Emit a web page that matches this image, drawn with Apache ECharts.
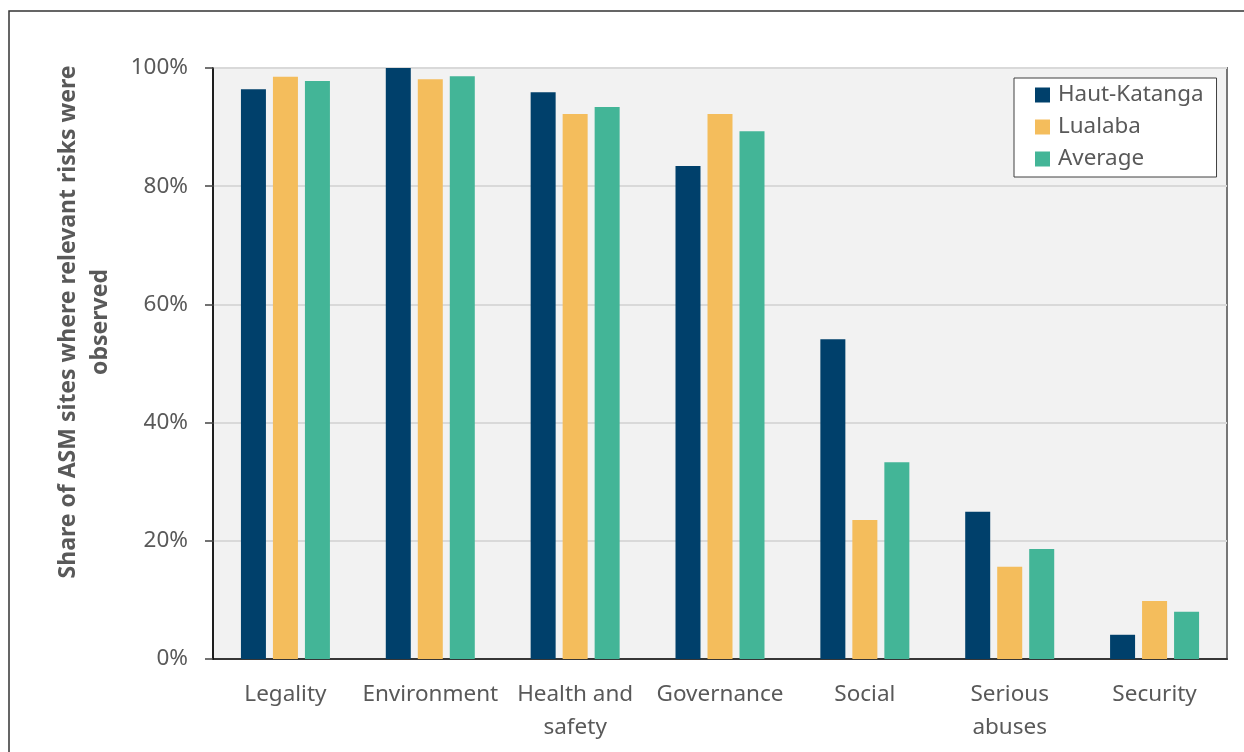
<!DOCTYPE html>
<html>
<head>
<meta charset="utf-8">
<title>ASM site risks by category</title>
<script src="https://cdn.jsdelivr.net/npm/echarts@6/dist/echarts.min.js"></script>
<style>
  html, body { margin: 0; padding: 0; background: #ffffff; }
  #chart { width: 1244px; height: 752px; }
</style>
</head>
<body>
<div id="chart"></div>
<script>
// Risk categories shown along the x axis
const categories = ['Legality', 'Environment', 'Health and\nsafety', 'Governance', 'Social', 'Serious\nabuses', 'Security'];

// Share of sites (%) where each risk category was observed
const hautKatanga = [96.4, 100, 95.9, 83.4, 54.1, 24.9, 4.1];
const lualaba     = [98.5, 98.1, 92.2, 92.2, 23.5, 15.6, 9.8];
const average     = [97.8, 98.6, 93.4, 89.3, 33.3, 18.6, 8.0];

const seriesNames = ['Haut-Katanga', 'Lualaba', 'Average'];
const colors = ['#00406b', '#f4bd5c', '#43b597'];

const yAxisTitle = 'Share of ASM sites where relevant risks were\nobserved';

const textColor = '#595959';
const fontFamily = '"Noto Sans", "Open Sans", sans-serif';

const chart = echarts.init(document.getElementById('chart'), null, { renderer: 'canvas' });

const seriesData = [hautKatanga, lualaba, average];

chart.setOption({
  animation: false,
  backgroundColor: '#ffffff',
  textStyle: { fontFamily: fontFamily },
  grid: {
    left: 213, right: 17, top: 68, bottom: 93,
    show: true,
    backgroundColor: '#f2f2f2',
    borderColor: '#777777',
    borderWidth: 2
  },
  legend: {
    orient: 'vertical',
    left: 1014,
    top: 78,
    data: seriesNames,
    icon: 'rect',
    itemWidth: 15,
    itemHeight: 15,
    itemGap: 8,
    padding: [5, 13, 6, 21],
    backgroundColor: '#ffffff',
    borderColor: '#404040',
    borderWidth: 1,
    borderRadius: 0,
    textStyle: {
      color: textColor,
      fontSize: 22.4,
      lineHeight: 24,
      fontFamily: fontFamily,
      padding: [0, 0, 0, 3]
    }
  },
  xAxis: {
    type: 'category',
    data: categories,
    axisLine: { show: true, lineStyle: { color: '#000000', width: 1.5 } },
    axisTick: { show: false },
    axisLabel: {
      color: textColor,
      fontSize: 22.5,
      lineHeight: 33,
      margin: 19,
      interval: 0,
      fontFamily: fontFamily
    },
    splitLine: { show: false }
  },
  yAxis: {
    type: 'value',
    min: 0,
    max: 100,
    interval: 20,
    axisLine: { show: true, lineStyle: { color: '#000000', width: 1.5 } },
    axisTick: { show: true, length: 8, lineStyle: { color: '#444444', width: 1.5 } },
    axisLabel: {
      color: textColor,
      fontSize: 22.5,
      margin: 25,
      fontFamily: fontFamily,
      formatter: '{value}%'
    },
    splitLine: { show: true, lineStyle: { color: '#d9d9d9', width: 2 } }
  },
  series: seriesNames.map((name, i) => ({
    name: name,
    type: 'bar',
    data: seriesData[i],
    barWidth: 25,
    barGap: '28%',
    itemStyle: { color: colors[i] }
  })),
  graphic: [
    {
      type: 'rect',
      silent: true,
      shape: { x: 9, y: 11, width: 1300, height: 800 },
      style: { fill: null, stroke: '#333333', lineWidth: 1.5 }
    },
    {
      type: 'text',
      silent: true,
      x: 84,
      y: 322,
      rotation: Math.PI / 2,
      style: {
        text: yAxisTitle,
        fill: textColor,
        font: 'bold 23px ' + fontFamily,
        lineHeight: 32,
        align: 'center',
        verticalAlign: 'middle'
      }
    }
  ]
});
</script>
</body>
</html>
